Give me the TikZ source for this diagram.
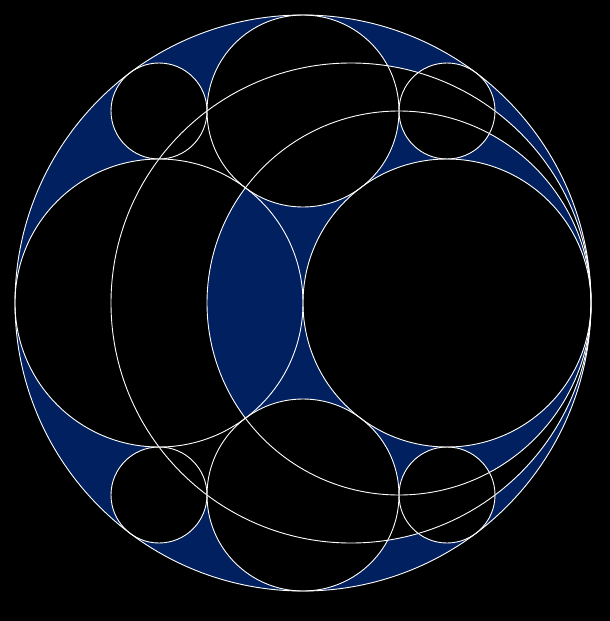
\documentclass[tikz,border=0pt]{standalone}
\definecolor{navy}{HTML}{002060}
\begin{document}
\begin{tikzpicture}[x=1pt,y=-1pt,
  ring/.style={draw=white,line width=0.9pt},
  hole/.style={fill=black}]
\fill[black] (0,0) rectangle (610,621);
\useasboundingbox (0,0) rectangle (610,621);
% centres
\coordinate (O) at (303,303);
\coordinate (A) at (351,303);
\coordinate (B) at (399,303);
\coordinate (L) at (159,303);
\coordinate (R) at (447,303);
\coordinate (T) at (303,111);
\coordinate (D) at (303,495);
\coordinate (TL) at (159,111);
\coordinate (TR) at (447,111);
\coordinate (BL) at (159,495);
\coordinate (BR) at (447,495);
% background shading
\fill[navy,even odd rule] (O) circle[radius=288pt] (A) circle[radius=240pt] (B) circle[radius=192pt];
% black discs
\fill[hole] (L) circle[radius=144pt];
\fill[hole] (R) circle[radius=144pt];
\fill[hole] (T) circle[radius=96pt];
\fill[hole] (D) circle[radius=96pt];
\foreach \c in {TL,TR,BL,BR} \fill[hole] (\c) circle[radius=48pt];
% lens
\begin{scope}
  \clip (L) circle[radius=144pt];
  \fill[navy] (B) circle[radius=192pt];
\end{scope}
% outlines
\draw[ring] (O) circle[radius=288pt];
\draw[ring] (A) circle[radius=240pt];
\draw[ring] (B) circle[radius=192pt];
\draw[ring] (L) circle[radius=144pt];
\draw[ring] (R) circle[radius=144pt];
\draw[ring] (T) circle[radius=96pt];
\draw[ring] (D) circle[radius=96pt];
\foreach \c in {TL,TR,BL,BR} \draw[ring] (\c) circle[radius=48pt];
\end{tikzpicture}
\end{document}
